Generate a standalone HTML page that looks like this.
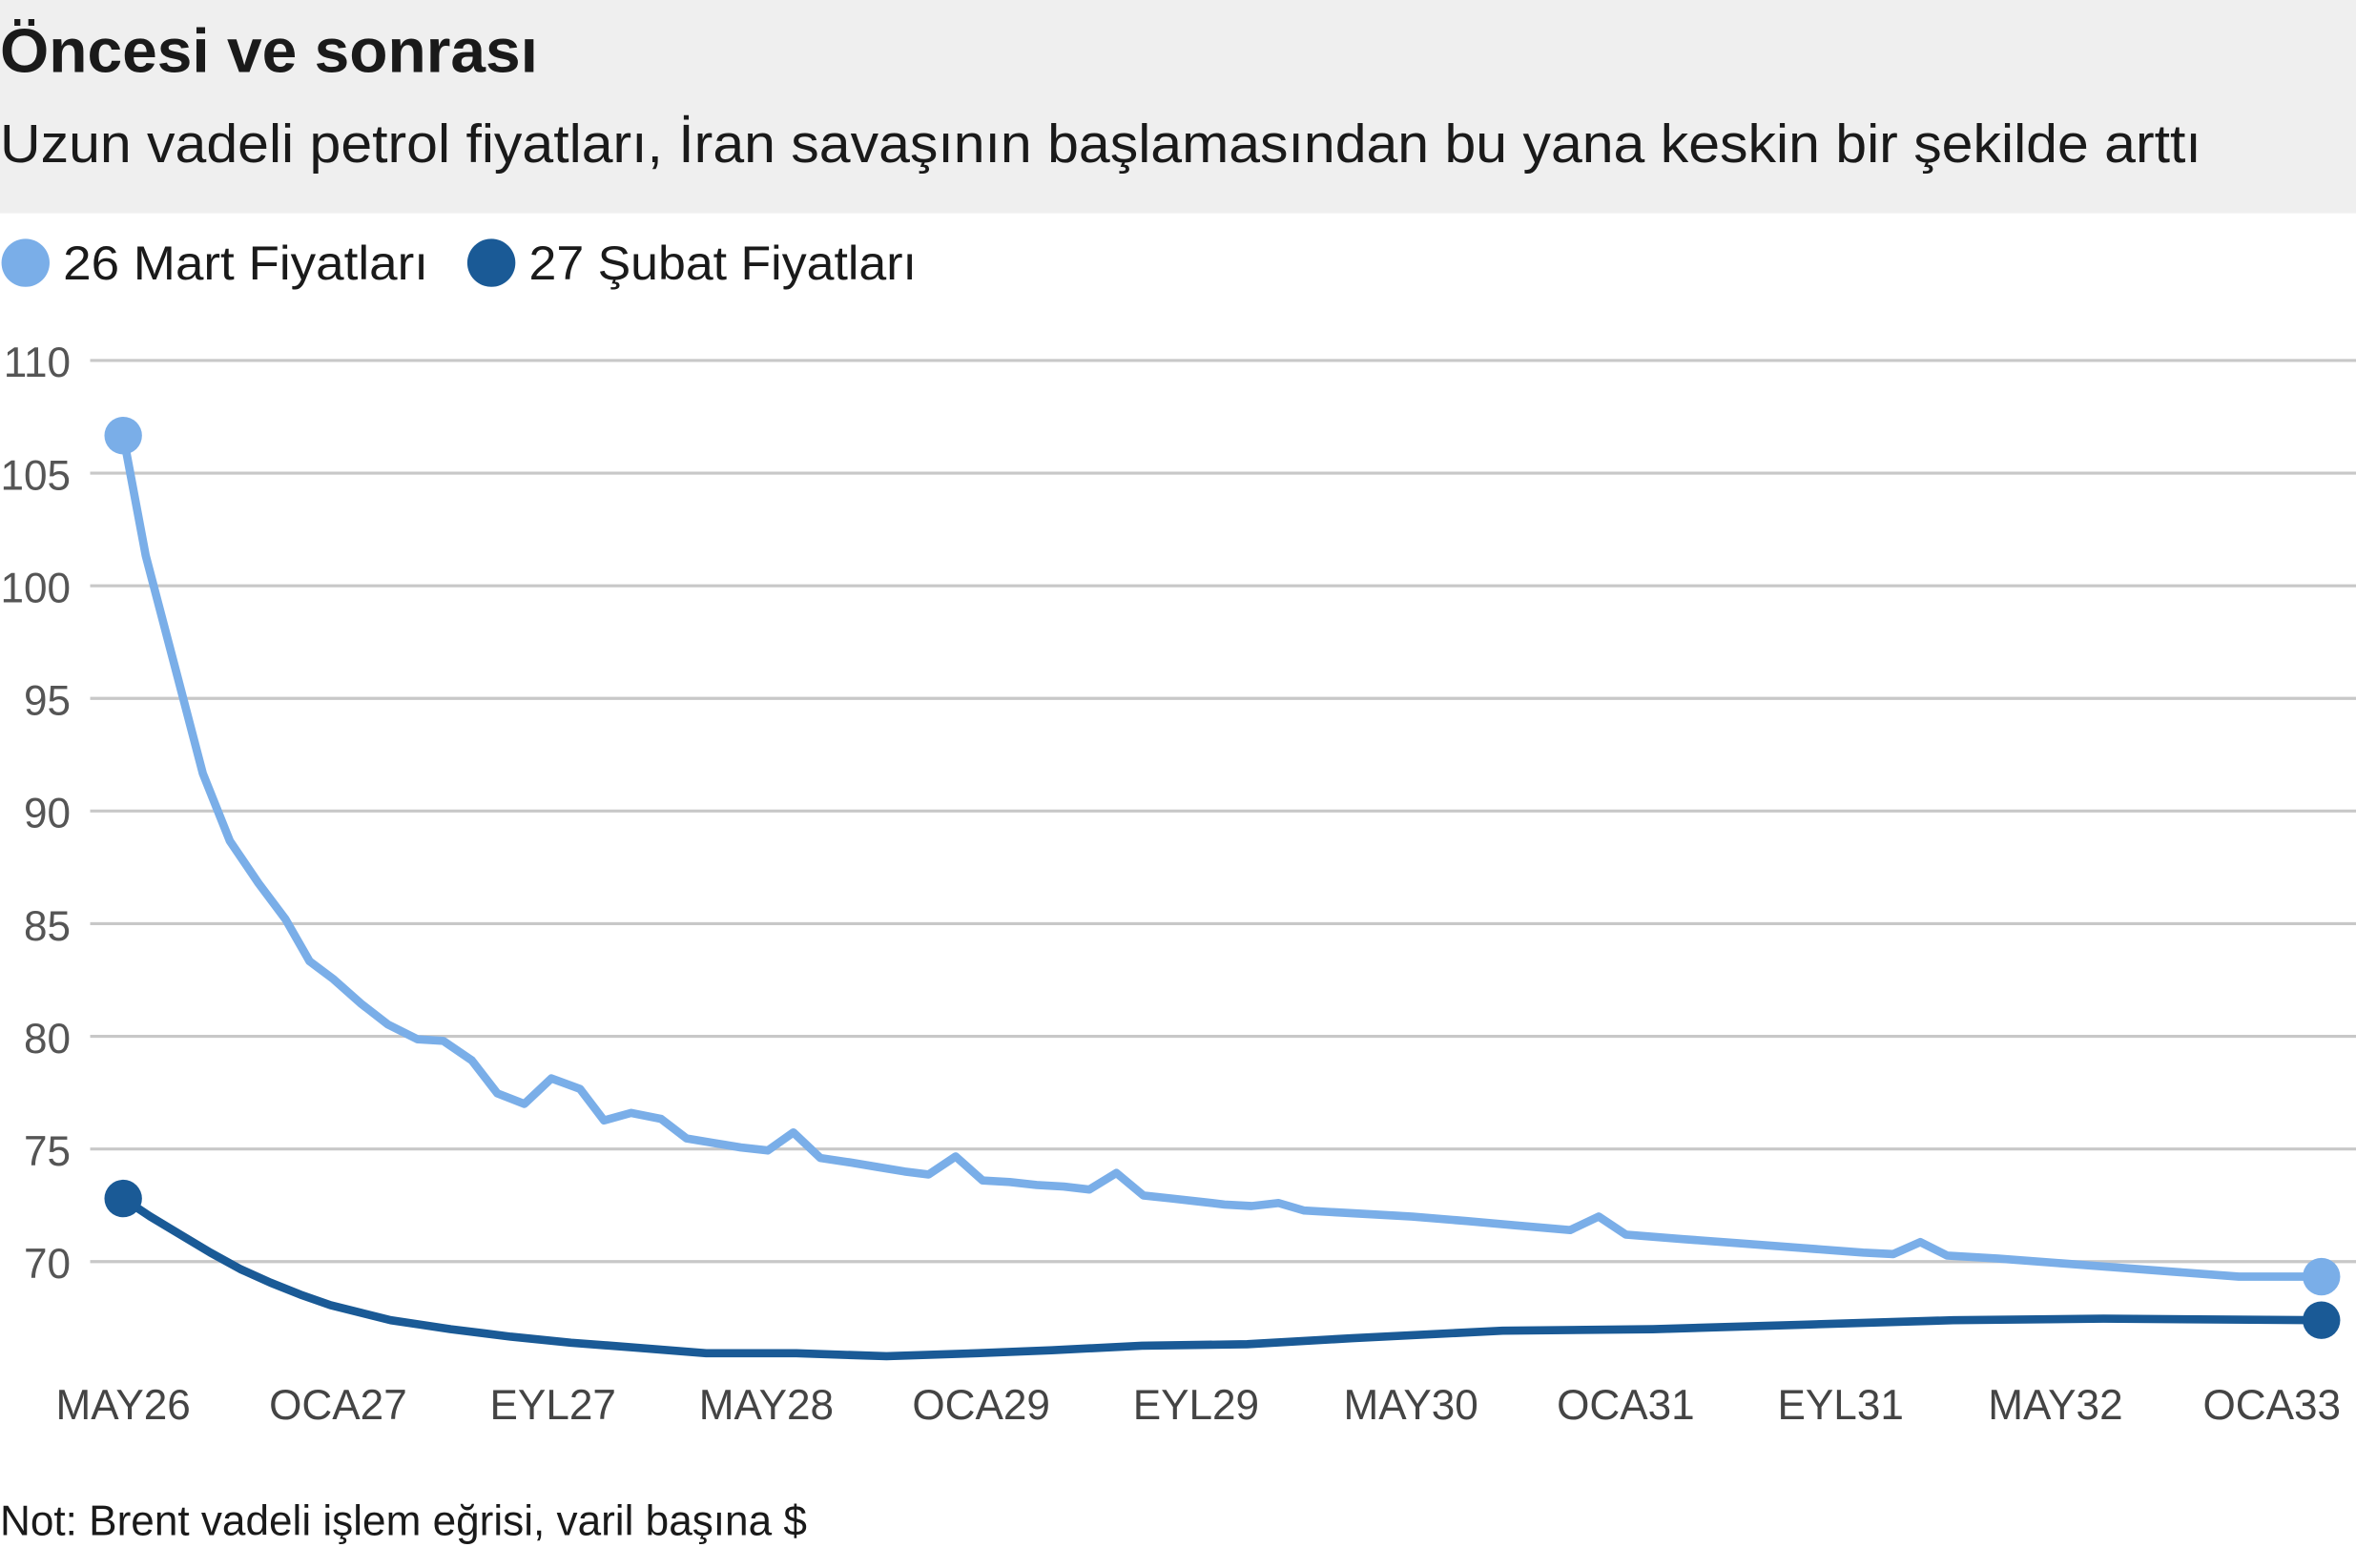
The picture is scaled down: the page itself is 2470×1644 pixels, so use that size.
<!DOCTYPE html>
<html><head><meta charset="utf-8"><style>
html,body{margin:0;padding:0;background:#fff;}
svg{display:block;}
text{font-family:"Liberation Sans",sans-serif;}
</style></head><body>
<svg width="2470" height="1644" viewBox="0 0 1568 1044" preserveAspectRatio="none" xmlns="http://www.w3.org/2000/svg">
<rect x="0" y="0" width="1568" height="142" fill="#efefef"/>
<text x="0" y="48" font-size="41" font-weight="bold" fill="#1a1a1a" textLength="358" lengthAdjust="spacingAndGlyphs">Öncesi ve sonrası</text>
<text x="0" y="108" font-size="36" fill="#1a1a1a" textLength="1465" lengthAdjust="spacingAndGlyphs">Uzun vadeli petrol fiyatları, İran savaşının başlamasından bu yana keskin bir şekilde arttı</text>
<circle cx="17" cy="175" r="16" fill="#7aaee8"/>
<text x="42" y="186" font-size="32" fill="#1a1a1a" textLength="243" lengthAdjust="spacingAndGlyphs">26 Mart Fiyatları</text>
<circle cx="327" cy="175" r="16" fill="#1a5a96"/>
<text x="352" y="186" font-size="32" fill="#1a1a1a" textLength="258" lengthAdjust="spacingAndGlyphs">27 Şubat Fiyatları</text>
<g stroke="#c8c8c8" stroke-width="2">
<line x1="60" y1="240" x2="1568" y2="240"/><line x1="60" y1="315" x2="1568" y2="315"/>
<line x1="60" y1="390" x2="1568" y2="390"/><line x1="60" y1="465" x2="1568" y2="465"/>
<line x1="60" y1="540" x2="1568" y2="540"/><line x1="60" y1="615" x2="1568" y2="615"/>
<line x1="60" y1="690" x2="1568" y2="690"/><line x1="60" y1="765" x2="1568" y2="765"/>
<line x1="60" y1="840" x2="1568" y2="840"/>
</g>
<g font-size="28" fill="#555" text-anchor="end">
<text x="47" y="251">110</text><text x="47" y="326">105</text><text x="47" y="401">100</text>
<text x="47" y="476">95</text><text x="47" y="551">90</text><text x="47" y="626">85</text>
<text x="47" y="701">80</text><text x="47" y="776">75</text><text x="47" y="851">70</text>
</g>
<g font-size="28" fill="#444" text-anchor="middle">
<text x="82" y="945">MAY26</text><text x="225" y="945">OCA27</text><text x="368" y="945">EYL27</text>
<text x="510" y="945">MAY28</text><text x="653" y="945">OCA29</text><text x="796" y="945">EYL29</text>
<text x="939" y="945">MAY30</text><text x="1082" y="945">OCA31</text><text x="1225" y="945">EYL31</text>
<text x="1368" y="945">MAY32</text><text x="1512" y="945">OCA33</text>
</g>
<polyline fill="none" stroke="#7aaee8" stroke-width="5.5" stroke-linejoin="round" points="82,290 97,370 118,450 135,515 153,560 172,588 190,612 206,640 222,652 240,668 258,682 278,692 295,693 314,706 331,728 349,735 367,718 386,725 402,746 420,741 440,745 457,758 475,761 493,764 511,766 528,754 546,771 566,774 584,777 602,780 618,782 636,770 654,786 672,787 690,789 708,790 725,792 743,781 761,796 780,798 798,800 815,802 833,803 851,801 868,806 886,807 904,808 940,810 976,813 1010,816 1045,819 1064,810 1082,822 1120,825 1160,828 1200,831 1240,834 1260,835 1278,827 1296,836 1330,838 1370,841 1410,844 1450,847 1490,850 1545,850"/>
<polyline fill="none" stroke="#1a5a96" stroke-width="5.5" stroke-linejoin="round" points="82,798 100,810 120,822 140,834 160,845 180,854 200,862 220,869 240,874 260,879 280,882 300,885 340,890 380,894 420,897 470,901 530,901 590,903 650,901 700,899 760,896 830,895 900,891 1000,886 1100,885 1200,882 1300,879 1400,878 1545,879"/>
<circle cx="82" cy="290" r="12.5" fill="#7aaee8"/>
<circle cx="1545" cy="850" r="12.5" fill="#7aaee8"/>
<circle cx="82" cy="798" r="12.5" fill="#1a5a96"/>
<circle cx="1545" cy="879" r="12.5" fill="#1a5a96"/>
<text x="0" y="1022" font-size="28" fill="#1a1a1a" textLength="537" lengthAdjust="spacingAndGlyphs">Not: Brent vadeli işlem eğrisi, varil başına $</text>
</svg>
</body></html>
